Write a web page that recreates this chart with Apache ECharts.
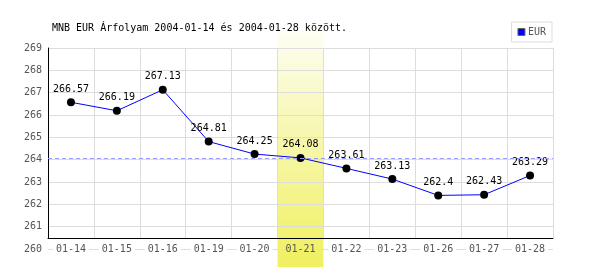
<!DOCTYPE html>
<html>
<head>
<meta charset="utf-8">
<script src="https://cdn.jsdelivr.net/npm/echarts@6/dist/echarts.min.js"></script>
<style>
  html, body { margin: 0; padding: 0; background: #fff; }
  #chart { width: 600px; height: 270px; }
</style>
</head>
<body>
<div id="chart"></div>
<script>
const days = ['01-14', '01-15', '01-16', '01-19', '01-20', '01-21', '01-22', '01-23', '01-26', '01-27', '01-28']
const eur = [266.57, 266.19, 267.13, 264.81, 264.25, 264.08, 263.61, 263.13, 262.4, 262.43, 263.29]
const highlightDay = '01-21'
const yMin = 260
const yMax = 269

const hi = days.indexOf(highlightDay)
const mono = 'DejaVu Sans Mono'

const myChart = echarts.init(document.getElementById('chart'))
myChart.setOption({
  animation: false,
  title: {
    text: 'MNB EUR Árfolyam 2004-01-14 és 2004-01-28 között.',
    left: 52, top: 23, padding: 0,
    textStyle: { fontFamily: mono, fontSize: 10, fontWeight: 'normal', color: '#000' }
  },
  legend: {
    right: 48, top: 22,
    padding: [5, 6, 5, 6],
    borderColor: '#ddd', borderWidth: 1,
    itemWidth: 7, itemHeight: 7, itemGap: 4,
    textStyle: { fontFamily: mono, fontSize: 10, color: '#555', padding: [0, 0, 0, -2] },
    data: [{ name: 'EUR', icon: 'rect', itemStyle: { color: '#0000ff', borderColor: '#666', borderWidth: 1 } }]
  },
  grid: [
    { left: 48, right: 47, top: 48, bottom: 21 },
    { left: 48, right: 47, top: 48, bottom: 32 },
    { left: 48, right: 47, top: 30, bottom: 3 }
  ],
  xAxis: [
    {
      gridIndex: 0, type: 'category', data: days, z: 1,
      axisLine: { show: false }, axisTick: { show: false }, splitLine: { show: false },
      axisLabel: {
        interval: 0,
        margin: -6,
        fontFamily: mono, fontSize: 10, color: '#555',
        formatter(v) { return v === highlightDay ? '{h|' + v + '}' : '{n|' + v + '}' },
        rich: {
          n: { fontFamily: mono, fontSize: 10, color: '#555', backgroundColor: '#fff', padding: [1, 3] },
          h: { fontFamily: mono, fontSize: 10, color: '#555', padding: [1, 3] }
        }
      }
    },
    {
      gridIndex: 1, type: 'category', data: days, z: 1,
      axisLine: { show: true, lineStyle: { color: '#000', width: 1 } },
      axisTick: { show: false }, axisLabel: { show: false },
      splitLine: { show: true, interval: 0, lineStyle: { color: '#ddd', width: 1 } }
    },
    {
      gridIndex: 2, type: 'category', data: days, show: false
    }
  ],
  yAxis: [
    {
      gridIndex: 0, type: 'value', min: yMin, max: yMax, interval: 1, z: 1,
      axisLine: { show: false }, axisTick: { show: false },
      splitLine: { lineStyle: { color: '#ddd', width: 1 } },
      axisLabel: { margin: 6, fontFamily: mono, fontSize: 10, color: '#555' }
    },
    {
      gridIndex: 1, type: 'value', min: 0, max: 1, z: 1,
      axisLine: { show: true, lineStyle: { color: '#000', width: 1 } },
      axisTick: { show: false }, axisLabel: { show: false }, splitLine: { show: false }
    },
    {
      gridIndex: 2, type: 'value', min: 0, max: 1, show: false
    }
  ],
  series: [
    {
      type: 'bar', xAxisIndex: 2, yAxisIndex: 2, z: 0,
      barWidth: '100%', silent: true,
      data: days.map((d, i) => (i === hi ? 1 : null)),
      itemStyle: {
        color: new echarts.graphic.LinearGradient(0, 0, 0, 1, [
          { offset: 0, color: '#fefef4' },
          { offset: 0.3, color: '#f9f9c4' },
          { offset: 1, color: '#f0f060' }
        ])
      }
    },
    {
      name: 'EUR', type: 'line', xAxisIndex: 0, yAxisIndex: 0, z: 3,
      data: eur,
      color: '#0000ff',
      lineStyle: { color: '#0000ff', width: 1 },
      symbol: 'circle', symbolSize: 8,
      itemStyle: { color: '#000' },
      label: {
        show: true, position: 'top', distance: 4,
        fontFamily: mono, fontSize: 10, color: '#000'
      },
      markLine: {
        silent: true, symbol: 'none', label: { show: false },
        lineStyle: { color: '#9999ff', type: [4, 3], width: 1 },
        data: [{ yAxis: eur[hi] }]
      }
    }
  ]
})
</script>
</body>
</html>
